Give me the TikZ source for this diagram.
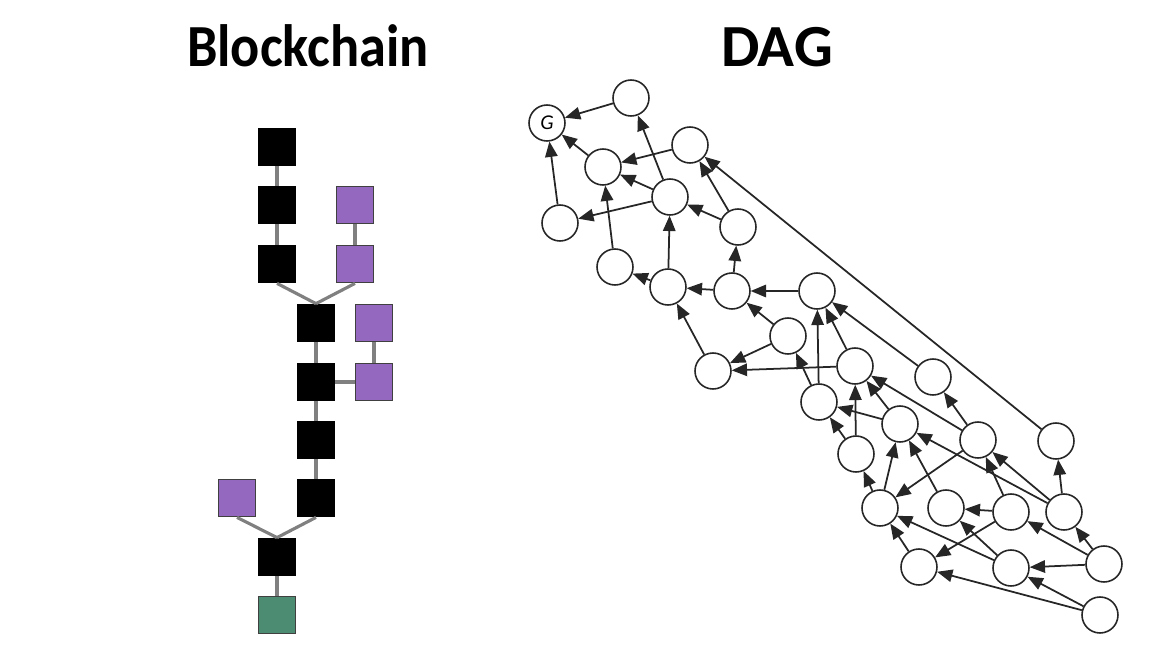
\documentclass[tikz,border=0pt]{standalone}
\usepackage{fontspec}
\setmainfont{Carlito}
\usetikzlibrary{arrows}
\definecolor{blockpurple}{HTML}{9568C0}
\definecolor{blockgreen}{HTML}{4C8C72}
\definecolor{linkgray}{HTML}{808080}
\definecolor{daggray}{HTML}{262626}

\begin{document}
\begin{tikzpicture}[>=triangle 45,x=0.02cm,y=-0.02cm,
  mainblock/.style={draw=black,fill=black,line width=1pt,minimum size=0.74cm,inner sep=0pt},
  sideblock/.style={draw=black!75,fill=blockpurple,line width=1pt,minimum size=0.74cm,inner sep=0pt},
  tipblock/.style={draw=black!75,fill=blockgreen,line width=1pt,minimum size=0.74cm,inner sep=0pt},
  link/.style={draw=linkgray,line width=1.8pt},
  dagnode/.style={circle,draw=daggray,fill=white,line width=0.9pt,minimum size=0.72cm,inner sep=0pt},
  dagedge/.style={->,draw=daggray,line width=1pt},
  title/.style={font=\fontsize{34pt}{0}\bfseries,inner sep=0pt}]
\useasboundingbox (0,0) rectangle (1164,656);

\node[title] (blockchain) at (308,46) {\scalebox{0.91}[1]{Blockchain}};
\node[title] (dag) at (777,47) {\scalebox{1.02}[1]{DAG}};

% blockchain
\foreach \name/\x/\y in {a1/277/147,a2/277/205,a3/277/264,a4/316/323,a5/316/382,a6/316/440,a7/316/498,a8/277/557}
  \node[mainblock] (\name) at (\x,\y) {};
\foreach \name/\x/\y in {p1/355/205,p2/355/264,p3/374/323,p4/374/382,p5/237/498}
  \node[sideblock] (\name) at (\x,\y) {};
\node[tipblock] (tip) at (277,615) {};

\foreach \a/\b in {a1/a2,a2/a3,a4/a5,a5/a6,a6/a7,p1/p2,p3/p4,a8/tip}
  \draw[link] (\a) -- (\b);
\draw[link] (a5) -- (p4);
\foreach \a/\b in {a3/a4,p2/a4,a7/a8,p5/a8}
  \draw[link] (\a.south) -- (\b.north);

% dag
\node[dagnode,font=\large\itshape] (g) at (547,123) {G};
\foreach \name/\x/\y in {n1/631/98,n2/690/145,n3/603/167,n4/670/197,n5/560/223,n6/738/227,
  n7/615/267,n8/668/287,n9/732/291,n10/817/291,n11/788/336,n12/713/371,n13/855/366,
  n14/933/377,n15/819/402,n16/900/424,n17/978/440,n18/1056/441,n19/856/454,n20/880/508,
  n21/946/508,n22/1011/512,n23/1064/512,n24/919/567,n25/1011/568,n26/1104/564,n27/1100/615}
  \node[dagnode] (\name) at (\x,\y) {};

\foreach \a/\b in {n1/g,n3/g,n5/g,n2/n3,n4/n3,n4/n1,n4/n5,n6/n4,n6/n2,n7/n3,n8/n4,n8/n7,
  n9/n8,n9/n6,n10/n9,n11/n9,n11/n12,n12/n8,n13/n12,n15/n11,n15/n10,n13/n10,n14/n10,n18/n2,
  n19/n15,n19/n13,n16/n13,n17/n13,n16/n15,n20/n19,n20/n16,n17/n20,n21/n16,n23/n16,n17/n14,
  n22/n17,n23/n17,n23/n18,n22/n21,n26/n23,n26/n22,n22/n24,n25/n21,n25/n20,n24/n20,n26/n25,
  n27/n25,n27/n24}
  \draw[dagedge] (\a) -- (\b);

\end{tikzpicture}
\end{document}
